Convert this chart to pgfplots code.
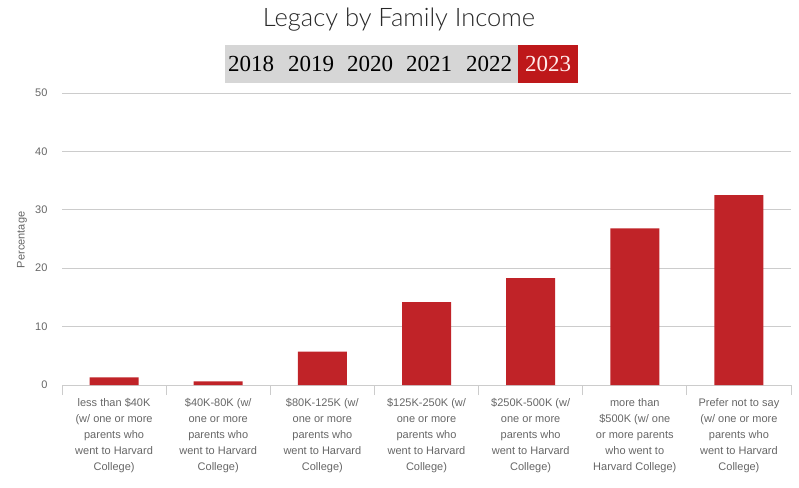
\documentclass[border=0pt]{standalone}
\usepackage{fontspec}
\setmainfont{Liberation Sans}
\newfontfamily\titlefont{Lato Light}
\newfontfamily\yearfont{Liberation Serif}
\usepackage{pgfplots}
\pgfplotsset{compat=1.18}
\definecolor{barred}{RGB}{192,35,40}
\definecolor{btnred}{RGB}{190,24,26}
\definecolor{btngray}{RGB}{214,214,214}
\definecolor{gridgray}{RGB}{204,204,204}
\definecolor{labgray}{RGB}{102,102,102}
\begin{document}
\begin{tikzpicture}
\path[use as bounding box] (-62pt,-102pt) rectangle (737pt,385pt);
\begin{axis}[
  at={(0pt,0pt)}, anchor=south west,
  scale only axis, width=729pt, height=292pt,
  xmin=-0.5, xmax=6.5, ymin=0, ymax=50,
  ytick={0,10,20,30,40,50},
  xtick={0,1,2,3,4,5,6},
  xticklabels={
    {less than \$40K\\(w/ one or more\\parents who\\went to Harvard\\College)},
    {\$40K-80K (w/\\one or more\\parents who\\went to Harvard\\College)},
    {\$80K-125K (w/\\one or more\\parents who\\went to Harvard\\College)},
    {\$125K-250K (w/\\one or more\\parents who\\went to Harvard\\College)},
    {\$250K-500K (w/\\one or more\\parents who\\went to Harvard\\College)},
    {more than\\\$500K (w/ one\\or more parents\\who went to\\Harvard College)},
    {Prefer not to say\\(w/ one or more\\parents who\\went to Harvard\\College)}},
  minor xtick={-0.5,0.5,1.5,2.5,3.5,4.5,5.5,6.5},
  xtick pos=bottom, ytick pos=left,
  major tick length=0pt, minor tick length=10pt, tick align=outside,
  minor tick style={gridgray, line width=0.8pt},
  axis line style={draw=none},
  ymajorgrids, grid style={gridgray, line width=0.8pt},
  /pgf/number format/assume math mode=true,
  ticklabel style={font=\fontsize{11}{16}\selectfont, text=labgray},
  xticklabel style={align=center, yshift=-10pt},
  yticklabel style={xshift=-11pt},
  ylabel={Percentage},
  ylabel style={at={(axis description cs:-0.055,0.497)}, anchor=center, rotate=0, font=\fontsize{11}{13}\selectfont, text=labgray},
  ybar, bar width=49pt,
]
\addplot[fill=barred, draw=none] coordinates {
  (0,1.3) (1,0.6) (2,5.7) (3,14.2) (4,18.3) (5,26.8) (6,32.5)
};
\end{axis}
\node[font=\titlefont\fontsize{25.5}{30}\selectfont, text={rgb,255:red,40;green,40;blue,40}] at (337pt,365pt) {Legacy by Family Income};
\fill[btngray] (163pt,302pt) rectangle (456pt,340pt);
\fill[btnred] (456pt,302pt) rectangle (516pt,340pt);
\foreach \yr/\xx in {2018/189,2019/249,2020/308,2021/367,2022/427} {
  \node[font=\yearfont\fontsize{23}{25}\selectfont, text=black] at (\xx pt,321pt) {\yr};
}
\node[font=\yearfont\fontsize{23}{25}\selectfont, text={rgb,255:red,255;green,235;blue,235}] at (486pt,321pt) {2023};
\end{tikzpicture}
\end{document}
